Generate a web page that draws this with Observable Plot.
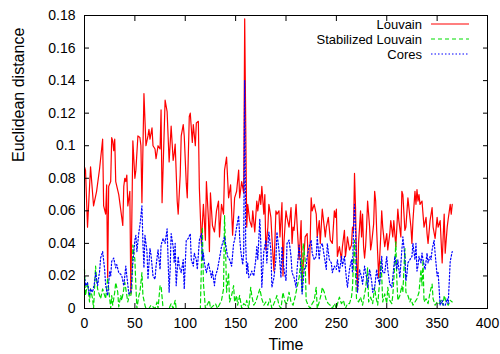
<!DOCTYPE html>
<html>
<head>
<meta charset="utf-8">
<script src="https://cdn.jsdelivr.net/npm/d3@7"></script>
<script src="https://cdn.jsdelivr.net/npm/@observablehq/plot@0.6"></script>
<style>
  html, body { margin: 0; padding: 0; background: #fff; }
  #chart { width: 500px; height: 354px; }
</style>
</head>
<body>
<div id="chart"></div>
<script>
// ---- data (time, euclidean distance) ----
const louvain = [[0,0.087],[1,0.085],[3,0.05],[6,0.087],[9,0.063],[12,0.072],[15,0.086],[18,0.104],[19,0.063],[21,0.058],[22,0.076],[23,0.019],[24,0.075],[26,0.078],[27,0.105],[28,0.103],[29,0.097],[30,0.104],[31,0.078],[34,0.07],[38,0.051],[39,0.075],[40,0.08],[41,0.078],[42,0.082],[43,0.063],[45,0.072],[46,0.009],[48,0.103],[50,0.08],[51,0.085],[53,0.106],[55,0.105],[56,0.1],[57,0.065],[59,0.132],[61,0.1],[63,0.106],[64,0.11],[65,0.104],[67,0.111],[68,0.1],[70,0.098],[71,0.092],[73,0.1],[75,0.098],[76,0.122],[77,0.065],[80,0.128],[82,0.121],[84,0.09],[86,0.112],[88,0.091],[89,0.095],[90,0.101],[92,0.066],[93,0.058],[95,0.082],[96,0.106],[98,0.113],[99,0.106],[101,0.077],[102,0.068],[104,0.118],[105,0.12],[107,0.102],[108,0.113],[110,0.1],[111,0.114],[113,0.115],[114,0.074],[116,0.04],[118,0.064],[120,0.042],[121,0.078],[123,0.055],[124,0.035],[125,0.071],[127,0.051],[129,0.047],[131,0.06],[133,0.066],[134,0.044],[136,0.064],[138,0.058],[139,0.085],[141,0.093],[143,0.068],[145,0.076],[147,0.045],[149,0.068],[151,0.072],[153,0.085],[154,0.068],[156,0.078],[158,0.071],[159,0.178],[161,0.05],[162,0.064],[164,0.054],[166,0.05],[167,0.06],[169,0.047],[171,0.066],[172,0.06],[174,0.07],[175,0.064],[176,0.075],[178,0.058],[179,0.07],[180,0.036],[182,0.05],[183,0.064],[185,0.056],[186,0.044],[188,0.023],[190,0.06],[191,0.058],[193,0.06],[194,0.044],[196,0.065],[197,0.02],[198,0.041],[200,0.06],[201,0.056],[203,0.05],[205,0.062],[206,0.04],[207,0.05],[208,0.048],[210,0.064],[211,0.052],[213,0.03],[215,0.054],[216,0.017],[218,0.034],[219,0.044],[221,0.046],[223,0.015],[225,0.068],[226,0.06],[228,0.064],[230,0.058],[231,0.044],[233,0.054],[234,0.04],[236,0.061],[238,0.05],[239,0.044],[240,0.05],[242,0.056],[244,0.042],[246,0.04],[248,0.06],[249,0.056],[250,0.061],[251,0.032],[253,0.038],[255,0.03],[256,0.038],[258,0.048],[259,0.032],[260,0.037],[261,0.044],[263,0.036],[265,0.039],[266,0.05],[267,0.048],[268,0.083],[269,0.062],[270,0.03],[271,0.011],[272,0.04],[274,0.06],[275,0.044],[276,0.058],[277,0.038],[278,0.031],[279,0.038],[280,0.05],[281,0.066],[283,0.05],[284,0.036],[285,0.04],[287,0.052],[288,0.072],[289,0.066],[290,0.048],[292,0.019],[294,0.044],[295,0.06],[296,0.05],[298,0.038],[300,0.046],[301,0.036],[303,0.046],[304,0.054],[306,0.044],[307,0.054],[309,0.038],[311,0.061],[312,0.054],[314,0.044],[315,0.072],[316,0.07],[318,0.048],[319,0.05],[321,0.068],[322,0.062],[324,0.05],[325,0.04],[326,0.054],[328,0.072],[329,0.064],[330,0.073],[331,0.066],[332,0.07],[333,0.064],[335,0.066],[336,0.058],[337,0.05],[339,0.056],[340,0.046],[341,0.04],[343,0.054],[345,0.062],[346,0.05],[348,0.043],[350,0.056],[351,0.05],[353,0.054],[355,0.028],[356,0.044],[357,0.058],[358,0.034],[360,0.05],[361,0.055],[363,0.064],[364,0.058],[365,0.064]];

const stabilized = [[0,0.024],[1,0.008],[3,0.016],[5,0.004],[6,0.012],[8,0.006],[9,0.0],[11,0.026],[12,0.018],[13,0.012],[15,0.008],[16,0.006],[18,0.012],[20,0.008],[21,0.006],[23,0.019],[24,0.012],[26,0.0],[27,0.008],[28,0.002],[30,0.01],[31,0.016],[33,0.01],[34,0.001],[36,0.008],[37,0.005],[39,0.012],[40,0.016],[42,0.008],[43,0.004],[45,0.01],[46,0.008],[47,0.012],[48,0.039],[50,0.03],[51,0.014],[52,0.0],[54,0.008],[55,0.01],[56,0.016],[57,0.022],[58,0.008],[60,0.002],[61,0.0],[64,0.0],[66,0.002],[70,0.0],[72,0.004],[73,0.0],[75,0.014],[76,0.014],[78,0.0],[84,0.0],[86,0.003],[88,0.0],[90,0.005],[91,0.0],[115,0.0],[116,0.026],[117,0.05],[118,0.016],[120,0.0],[124,0.005],[125,0.0],[130,0.003],[132,0.0],[136,0.005],[138,0.012],[139,0.057],[140,0.037],[141,0.01],[143,0.022],[144,0.004],[146,0.008],[148,0.014],[149,0.004],[151,0.008],[152,0.002],[154,0.008],[156,0.0],[158,0.003],[160,0.002],[161,0.005],[163,0.0],[165,0.013],[166,0.008],[168,0.002],[170,0.004],[172,0.008],[174,0.012],[176,0.006],[178,0.002],[180,0.004],[182,0.002],[184,0.006],[186,0.0],[188,0.003],[190,0.006],[191,0.008],[193,0.002],[195,0.0],[197,0.01],[199,0.004],[201,0.003],[203,0.01],[205,0.004],[207,0.002],[209,0.007],[211,0.013],[213,0.019],[215,0.031],[216,0.01],[217,0.04],[219,0.03],[220,0.005],[222,0.002],[224,0.0],[226,0.003],[228,0.005],[230,0.013],[231,0.0],[233,0.004],[235,0.009],[236,0.013],[238,0.01],[240,0.005],[242,0.003],[244,0.002],[246,0.0],[248,0.003],[250,0.0],[252,0.005],[253,0.007],[255,0.003],[257,0.005],[259,0.0],[261,0.003],[263,0.003],[265,0.007],[266,0.013],[267,0.029],[268,0.042],[269,0.02],[270,0.006],[272,0.004],[274,0.007],[276,0.002],[278,0.009],[279,0.012],[281,0.025],[282,0.004],[284,0.007],[286,0.003],[288,0.013],[289,0.008],[291,0.002],[293,0.017],[294,0.029],[295,0.02],[296,0.004],[298,0.009],[300,0.003],[301,0.013],[303,0.005],[305,0.003],[306,0.008],[308,0.027],[309,0.041],[310,0.018],[311,0.005],[313,0.008],[315,0.014],[316,0.01],[318,0.037],[319,0.01],[321,0.008],[323,0.004],[324,0.006],[326,0.002],[328,0.004],[330,0.006],[332,0.01],[334,0.024],[335,0.014],[336,0.03],[337,0.004],[339,0.006],[341,0.003],[343,0.01],[345,0.015],[346,0.006],[348,0.002],[350,0.004],[352,0.003],[354,0.005],[356,0.002],[357,0.008],[359,0.004],[361,0.002],[363,0.005],[365,0.004]];

const cores = [[0,0.02],[1,0.014],[3,0.016],[5,0.008],[6,0.012],[8,0.01],[10,0.016],[11,0.022],[13,0.014],[15,0.023],[16,0.031],[18,0.035],[20,0.024],[21,0.014],[23,0.008],[25,0.023],[26,0.02],[27,0.029],[29,0.031],[31,0.025],[32,0.027],[34,0.022],[36,0.021],[37,0.02],[39,0.014],[41,0.026],[42,0.02],[44,0.009],[46,0.01],[48,0.028],[50,0.042],[51,0.045],[52,0.035],[54,0.047],[55,0.051],[57,0.063],[58,0.04],[59,0.025],[60,0.045],[62,0.035],[63,0.018],[65,0.037],[66,0.033],[68,0.02],[70,0.018],[71,0.026],[73,0.036],[75,0.024],[76,0.039],[78,0.043],[80,0.04],[82,0.049],[84,0.01],[85,0.024],[86,0.046],[88,0.038],[89,0.028],[90,0.04],[91,0.014],[93,0.032],[94,0.026],[96,0.022],[98,0.03],[99,0.012],[101,0.042],[103,0.043],[105,0.046],[106,0.03],[108,0.026],[109,0.034],[111,0.03],[112,0.024],[114,0.042],[116,0.046],[117,0.03],[118,0.034],[119,0.028],[121,0.022],[123,0.028],[124,0.025],[126,0.019],[127,0.023],[129,0.014],[130,0.02],[132,0.024],[134,0.031],[136,0.038],[138,0.042],[139,0.044],[141,0.036],[142,0.032],[144,0.03],[146,0.026],[148,0.04],[149,0.042],[151,0.05],[153,0.057],[154,0.044],[155,0.036],[157,0.027],[158,0.034],[159,0.14],[160,0.04],[161,0.021],[162,0.028],[163,0.019],[165,0.021],[166,0.023],[168,0.02],[170,0.03],[171,0.038],[172,0.03],[174,0.055],[175,0.04],[176,0.013],[178,0.035],[180,0.042],[181,0.028],[183,0.047],[185,0.036],[186,0.013],[188,0.019],[190,0.03],[191,0.047],[193,0.036],[195,0.019],[196,0.038],[198,0.024],[200,0.017],[201,0.04],[203,0.042],[205,0.032],[206,0.022],[208,0.019],[210,0.013],[211,0.024],[213,0.039],[214,0.032],[216,0.009],[218,0.024],[220,0.026],[221,0.032],[223,0.038],[225,0.042],[226,0.034],[228,0.03],[230,0.032],[231,0.044],[233,0.03],[234,0.038],[236,0.04],[237,0.036],[238,0.032],[240,0.024],[241,0.04],[243,0.03],[245,0.028],[246,0.022],[248,0.026],[250,0.024],[251,0.03],[253,0.022],[255,0.032],[256,0.026],[258,0.032],[260,0.018],[261,0.013],[263,0.024],[265,0.03],[266,0.022],[267,0.048],[268,0.064],[269,0.05],[270,0.021],[271,0.01],[273,0.024],[275,0.019],[276,0.015],[278,0.026],[280,0.019],[281,0.013],[283,0.024],[285,0.017],[286,0.01],[288,0.013],[290,0.024],[291,0.019],[293,0.015],[295,0.032],[296,0.022],[298,0.022],[300,0.032],[301,0.024],[303,0.015],[305,0.013],[306,0.019],[308,0.032],[310,0.024],[311,0.03],[313,0.019],[315,0.036],[316,0.044],[318,0.032],[319,0.017],[320,0.021],[321,0.028],[323,0.03],[325,0.032],[326,0.04],[328,0.03],[329,0.04],[330,0.023],[331,0.026],[332,0.032],[334,0.028],[335,0.034],[336,0.03],[338,0.024],[340,0.034],[341,0.028],[343,0.032],[344,0.03],[345,0.036],[347,0.042],[348,0.034],[350,0.02],[351,0.022],[353,0.002],[355,0.005],[356,0.002],[358,0.002],[360,0.006],[361,0.003],[363,0.029],[365,0.035]];

const xTicks = [0, 50, 100, 150, 200, 250, 300, 350, 400];
const yTicks = [0, 0.02, 0.04, 0.06, 0.08, 0.1, 0.12, 0.14, 0.16, 0.18];
const yTickLabels = ["0", "0.02", "0.04", "0.06", "0.08", "0.1", "0.12", "0.14", "0.16", "0.18"];
const seriesNames = ["Louvain", "Stabilized Louvain", "Cores"];
const seriesColors = ["#ff0000", "#00dd00", "#0000ff"];
const seriesDash = [null, "4,3", "1.5,2"];
const xTitle = "Time";
const yTitle = "Euclidean distance";

const font = "'Liberation Sans', Arial, Helvetica, sans-serif";

const chart = Plot.plot({
  width: 500,
  height: 354,
  marginLeft: 84,
  marginRight: 13,
  marginTop: 15,
  marginBottom: 46,
  x: {domain: [0, 400]},
  y: {domain: [0, 0.18]},
  style: {fontFamily: font, fontSize: "14px", color: "#000", background: "#fff", overflow: "visible"},
  marks: [
    Plot.line(louvain, {x: d => d[0], y: d => d[1], stroke: seriesColors[0], strokeWidth: 1.2}),
    Plot.line(stabilized, {x: d => d[0], y: d => d[1], stroke: seriesColors[1], strokeWidth: 1.2, strokeDasharray: seriesDash[1]}),
    Plot.line(cores, {x: d => d[0], y: d => d[1], stroke: seriesColors[2], strokeWidth: 1.2, strokeDasharray: seriesDash[2]}),
    Plot.frame({stroke: "#000", strokeWidth: 1}),
    Plot.axisX(xTicks, {anchor: "bottom", tickSize: -5, tickPadding: 15, label: null, fontSize: 14}),
    Plot.axisX(xTicks, {anchor: "top", tickSize: -5, tickFormat: () => "", label: null}),
    Plot.axisY(yTicks, {anchor: "left", tickSize: -5, tickPadding: 14, label: null, fontSize: 14,
      tickFormat: d => yTickLabels[yTicks.indexOf(d)]}),
    Plot.axisY(yTicks, {anchor: "right", tickSize: -5, tickFormat: () => "", label: null}),
    Plot.text([xTitle], {frameAnchor: "bottom", dy: 36, fontSize: 16, lineAnchor: "middle"}),
    Plot.text([yTitle], {frameAnchor: "left", dx: -66, rotate: -90, fontSize: 16, lineAnchor: "middle"})
  ]
});

document.getElementById("chart").appendChild(chart);

// legend inside the plot, top-right (gnuplot style)
const svg = d3.select(chart);
const legend = svg.append("g").attr("font-family", font).attr("font-size", 13);
const rowY = [24, 39, 54];
seriesNames.forEach((name, i) => {
  legend.append("text")
    .attr("x", 422).attr("y", rowY[i]).attr("dy", "0.35em")
    .attr("text-anchor", "end").attr("fill", "#000")
    .text(name);
  legend.append("line")
    .attr("x1", 431).attr("x2", 469).attr("y1", rowY[i]).attr("y2", rowY[i])
    .attr("stroke", seriesColors[i]).attr("stroke-width", 1.2)
    .attr("stroke-dasharray", seriesDash[i]);
});
</script>
</body>
</html>
